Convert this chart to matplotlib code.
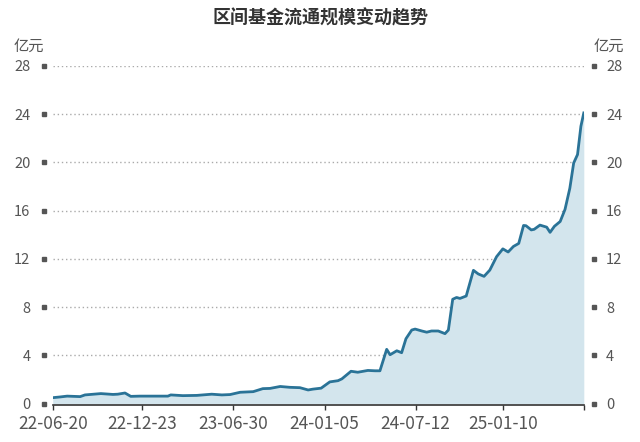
import matplotlib
matplotlib.use("Agg")
import matplotlib.pyplot as plt
import matplotlib.dates as mdates
import matplotlib.transforms as mtrans
import numpy as np
import pandas as pd

plt.rcParams['font.family'] = ['Noto Sans CJK SC', 'DejaVu Sans']

# data (亿元)
dates = ['2022-06-20', '2022-07-05', '2022-07-20', '2022-08-16', '2022-08-26',
         '2022-09-28', '2022-10-23', '2022-11-02', '2022-11-17', '2022-11-29',
         '2022-12-18', '2023-01-08', '2023-02-14', '2023-02-20', '2023-03-17',
         '2023-04-15', '2023-05-16', '2023-06-06', '2023-06-23', '2023-07-14',
         '2023-08-10', '2023-08-30', '2023-09-14', '2023-10-05', '2023-10-25',
         '2023-11-15', '2023-12-02', '2023-12-12', '2023-12-29', '2024-01-16',
         '2024-02-02', '2024-02-10', '2024-02-29', '2024-03-14', '2024-04-04',
         '2024-04-19', '2024-04-29', '2024-05-13', '2024-05-20', '2024-06-03',
         '2024-06-13', '2024-06-22', '2024-07-04', '2024-07-11', '2024-07-25',
         '2024-08-04', '2024-08-14', '2024-08-28', '2024-09-11', '2024-09-18',
         '2024-09-27', '2024-10-05', '2024-10-12', '2024-10-25', '2024-11-09',
         '2024-11-19', '2024-12-01', '2024-12-13', '2024-12-27', '2025-01-09',
         '2025-01-20', '2025-01-31', '2025-02-11', '2025-02-21', '2025-02-26',
         '2025-03-09', '2025-03-15', '2025-03-27', '2025-04-10', '2025-04-17',
         '2025-04-26', '2025-05-08', '2025-05-18', '2025-05-28', '2025-06-05',
         '2025-06-13', '2025-06-20', '2025-06-26']
scale = [0.49, 0.55, 0.62, 0.58, 0.72,
         0.83, 0.76, 0.78, 0.88, 0.60,
         0.62, 0.62, 0.62, 0.72, 0.66,
         0.68, 0.78, 0.72, 0.75, 0.94,
         0.99, 1.24, 1.26, 1.42, 1.35,
         1.32, 1.13, 1.20, 1.28, 1.80,
         1.90, 2.05, 2.68, 2.60, 2.75,
         2.72, 2.72, 4.50, 4.05, 4.38,
         4.22, 5.38, 6.10, 6.18, 6.02,
         5.92, 6.02, 6.02, 5.80, 6.10,
         8.65, 8.80, 8.72, 8.92, 11.05,
         10.75, 10.55, 11.07, 12.18, 12.83,
         12.57, 13.03, 13.28, 14.77, 14.75,
         14.40, 14.45, 14.80, 14.63, 14.20,
         14.70, 15.10, 16.10, 17.85, 19.95,
         20.65, 23.00, 24.10]

tick_dates = ['2022-06-20', '2022-12-23', '2023-06-30', '2024-01-05', '2024-07-12', '2025-01-10']
tick_labels = ['22-06-20', '22-12-23', '23-06-30', '24-01-05', '24-07-12', '25-01-10']
y_ticks = [0, 4, 8, 12, 16, 20, 24, 28]

x = pd.to_datetime(dates)
tx = pd.to_datetime(tick_dates)

fig = plt.figure(figsize=(6.4, 4.42), dpi=100)
ax = fig.add_axes([52.7 / 640, 1 - 403.6 / 442, (583.8 - 52.7) / 640, (403.6 - 65.9) / 442])

ax.fill_between(x, scale, 0, color='#d3e5ed', lw=0)
ax.plot(x, scale, color='#2a7397', lw=2.0, solid_joinstyle='round')

ax.set_xlim(x[0], x[-1])
ax.set_ylim(0, 28)

# gridlines
for v in y_ticks[1:]:
    ax.axhline(v, color='#aaaaaa', lw=1.0, ls=(0, (1, 2)), zorder=0)

ax.set_yticks(y_ticks)
ax.set_yticklabels([str(v) for v in y_ticks])
ax.tick_params(axis='y', length=0, labelsize=10.5, labelcolor='#555555',
               left=False, right=False, labelleft=True, labelright=True, pad=16)

# little square markers beside y labels
trl = mtrans.blended_transform_factory(ax.transAxes, ax.transData)
off = 9 / (583.8 - 52.7)
ax.plot([-off] * len(y_ticks), y_ticks, 's', ms=3, color='#555555', transform=trl, clip_on=False)
ax.plot([1 + off + 1 / 531] * len(y_ticks), y_ticks, 's', ms=3, color='#555555', transform=trl, clip_on=False)

ax.set_xticks(list(tx) + [x[-1]])
ax.set_xticklabels(tick_labels + [''])
ax.tick_params(axis='x', direction='out', length=3.5, width=1, color='#333333',
               labelsize=12.5, labelcolor='#555555', pad=4)

for s in ['top', 'left', 'right']:
    ax.spines[s].set_visible(False)
ax.spines['bottom'].set_color('#333333')
ax.spines['bottom'].set_linewidth(1.2)
ax.spines['bottom'].set_position(('outward', 1))

fig.text(29 / 640, 1 - 46 / 442, '亿元', ha='center', va='center', fontsize=11, color='#555555')
fig.text(609 / 640, 1 - 46 / 442, '亿元', ha='center', va='center', fontsize=11, color='#555555')
fig.text(0.5, 1 - 18 / 442, '区间基金流通规模变动趋势', ha='center', va='center',
         fontsize=13, fontweight='bold', color='#333333')

fig.savefig('out.png', dpi=100)
